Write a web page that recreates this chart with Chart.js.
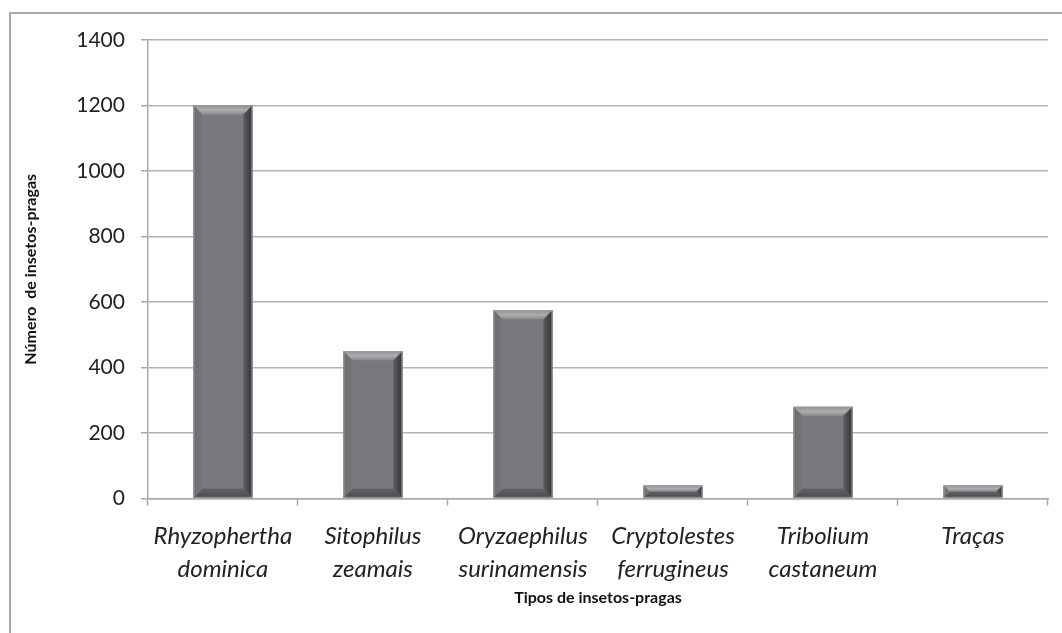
<!DOCTYPE html>
<html>
<head>
<meta charset="utf-8">
<script src="https://cdn.jsdelivr.net/npm/chart.js@4"></script>
<style>
  html, body { margin: 0; padding: 0; background: #fff; }
  #wrap { position: relative; width: 1062px; height: 633px; overflow: hidden; }
  #frame { position: absolute; left: 9px; top: 12px; width: 1100px; height: 700px;
           border-left: 2px solid #a8a8a8; border-top: 2px solid #a8a8a8; }
  canvas { position: absolute; left: 0; top: 0; }
</style>
</head>
<body>
<div id="wrap">
  <div id="frame"></div>
  <canvas id="chart" width="1062" height="633"></canvas>
</div>
<script>
const categories = [
  ["Rhyzophertha", "dominica"],
  ["Sitophilus", "zeamais"],
  ["Oryzaephilus", "surinamensis"],
  ["Cryptolestes", "ferrugineus"],
  ["Tribolium", "castaneum"],
  ["Traças"]
];
const counts = [1200, 450, 575, 40, 280, 40];
const yTicks = [0, 200, 400, 600, 800, 1000, 1200, 1400];

// bevelled look of the bars, drawn over each bar element
const bevel = {
  id: "bevel",
  afterDatasetsDraw(chart) {
    const ctx = chart.ctx;
    chart.getDatasetMeta(0).data.forEach((bar) => {
      const p = bar.getProps(["x", "y", "base", "width"], true);
      const l = p.x - p.width / 2, r = p.x + p.width / 2;
      const t = p.y, b = p.base;
      const d = Math.min(9, (b - t) / 2);
      const poly = (pts, fill) => {
        ctx.beginPath();
        ctx.moveTo(pts[0][0], pts[0][1]);
        pts.slice(1).forEach((q) => ctx.lineTo(q[0], q[1]));
        ctx.closePath();
        ctx.fillStyle = fill;
        ctx.fill();
      };
      ctx.save();
      let g = ctx.createLinearGradient(0, t, 0, t + d);
      g.addColorStop(0, "#8e8f92");
      g.addColorStop(0.5, "#acadb0");
      g.addColorStop(1, "#8a8b8e");
      poly([[l, t], [r, t], [r - d, t + d], [l + d, t + d]], g);
      g = ctx.createLinearGradient(r - d, 0, r, 0);
      g.addColorStop(0, "#5c5d60");
      g.addColorStop(1, "#333437");
      poly([[r, t], [r, b], [r - d, b - d], [r - d, t + d]], g);
      g = ctx.createLinearGradient(0, b - d, 0, b);
      g.addColorStop(0, "#616265");
      g.addColorStop(1, "#4a4b4e");
      poly([[l, b], [r, b], [r - d, b - d], [l + d, b - d]], g);
      g = ctx.createLinearGradient(l, 0, l + d, 0);
      g.addColorStop(0, "#6c6d70");
      g.addColorStop(1, "#75767a");
      poly([[l, t], [l, b], [l + d, b - d], [l + d, t + d]], g);
      ctx.strokeStyle = "#9a9b9e";
      ctx.lineWidth = 1;
      ctx.strokeRect(l + 0.5, t + 0.5, p.width - 1, b - t - 1);
      ctx.restore();
    });
  }
};

new Chart(document.getElementById("chart"), {
  type: "bar",
  data: {
    labels: categories,
    datasets: [{
      data: counts,
      backgroundColor: "#78797c",
      borderWidth: 0,
      categoryPercentage: 1,
      barPercentage: 0.393
    }]
  },
  options: {
    responsive: false,
    animation: false,
    layout: { padding: { top: 40, right: 14, left: 17, bottom: 22 } },
    plugins: {
      legend: { display: false },
      tooltip: { enabled: false }
    },
    scales: {
      x: {
        grid: { drawOnChartArea: false, tickLength: 7, tickColor: "#a8a8a8", tickWidth: 1.5 },
        border: { color: "#a8a8a8", width: 1.5 },
        ticks: {
          color: "#222",
          font: { family: "Lato", size: 24, style: "italic", lineHeight: 1.38 },
          padding: 14,
          maxRotation: 0,
          autoSkip: false
        },
        title: {
          display: true,
          text: "Tipos de insetos-pragas",
          color: "#111",
          font: { family: "Lato", size: 16, weight: "bold" },
          padding: { top: -12 }
        }
      },
      y: {
        min: 0,
        max: 1400,
        afterBuildTicks: (axis) => { axis.ticks = yTicks.map((v) => ({ value: v })); },
        grid: { color: "#b4b4b4", lineWidth: 1.5, tickLength: 7, tickColor: "#a8a8a8" },
        border: { color: "#a8a8a8", width: 1.5 },
        ticks: {
          color: "#222",
          font: { family: "Lato", size: 21 },
          padding: 16,
          callback: (v) => String(v)
        },
        title: {
          display: true,
          text: "Número  de insetos-pragas",
          color: "#111",
          font: { family: "Lato", size: 16, weight: "bold" },
          padding: { top: 4, bottom: 20 }
        }
      }
    }
  },
  plugins: [bevel]
});
</script>
</body>
</html>
